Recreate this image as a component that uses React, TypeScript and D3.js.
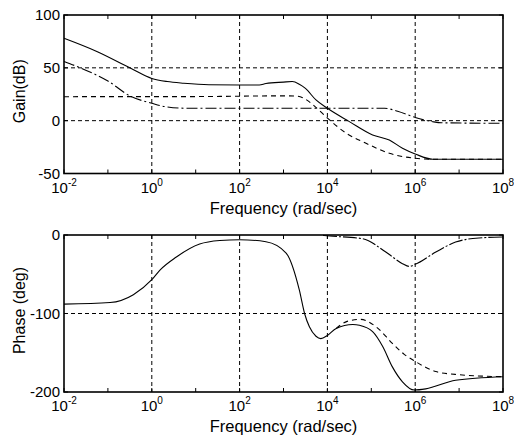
import React from 'react';
import * as d3 from 'd3';

// ---- data (log10 of frequency in rad/sec, values) ----
const xTickExps = [-2, 0, 2, 4, 6, 8];
const minorExps = [-1, 1, 3, 5, 7];
const gainTicks = [100, 50, 0, -50];
const gainGrid = [50, 0];
const phaseTicks = [0, -100, -200];
const phaseGrid = [-100];

// Gain: solid curve
const gainSolidW = [-2, -1.24, -0.48, 0, 0.35, 0.73, 1.3, 2.0, 2.45, 2.6, 3.0, 3.2, 3.36, 3.5, 3.74, 4.0, 4.5, 5.03, 5.41, 5.71, 6.0, 6.4, 7.0, 8];
const gainSolidDb = [78, 65.3, 49.6, 40, 37, 35.4, 34, 33.8, 33.8, 35.2, 36.5, 37, 34.5, 30.5, 19.6, 11.7, -0.9, -13.5, -18.3, -26.1, -31.5, -36.5, -36.5, -36.5];
// Gain: dash-dot curve
const gainDashDotW = [-2, -1.6, -1.0, -0.48, 0, 0.3, 0.73, 1.5, 3.0, 5.3, 5.6, 6.0, 6.4, 6.6, 8];
const gainDashDotDb = [56, 49.5, 37.5, 23, 16.5, 13.3, 11.8, 11.7, 11.7, 11.7, 9, 3, -1, -2, -2.5];
// Gain: dashed curve
const gainDashedW = [-2, 1, 3.0, 3.3, 3.45, 3.7, 4.0, 4.43, 4.88, 5.41, 6.0, 6.4, 8];
const gainDashedDb = [22.7, 22.8, 23.5, 23.2, 21.5, 14, 2.5, -11.9, -21.4, -30.9, -35.6, -36.5, -36.5];

// Phase: solid curve
const phaseSolidW = [-2, -0.95, -0.42, 0, 0.18, 0.56, 1.09, 1.55, 2.0, 2.6, 3.06, 3.36, 3.48, 3.59, 3.74, 3.85, 4.0, 4.2, 4.58, 4.73, 5.03, 5.26, 5.48, 5.71, 5.98, 6.24, 6.92, 8];
const phaseSolidDeg = [-88, -86, -76, -57, -45, -28, -11.5, -7, -6, -8.5, -23, -70, -100, -117, -129, -132, -128, -119, -114, -115, -123, -142, -168, -187, -197.5, -196, -185, -180.5];
// Phase: dashed curve
const phaseDashedW = [4.2, 4.45, 4.75, 5.11, 5.48, 5.75, 6.0, 6.47, 7.0, 8];
const phaseDashedDeg = [-119, -110, -107.5, -117, -138, -152, -161, -174, -178, -180.5];
// Phase: dash-dot curve
const phaseDashDotW = [3.9, 4.05, 4.8, 5.33, 5.71, 5.86, 6.0, 6.47, 6.92, 7.45, 8];
const phaseDashDotDeg = [-0.5, -1.3, -4.7, -21.7, -36.5, -40, -37.4, -21.7, -9, -3.8, -2.5];

const FONT = '"Liberation Sans", Arial, Helvetica, sans-serif';
const L = 64;
const R = 503;

const x = d3.scaleLog().domain([1e-2, 1e8]).range([L, R]);

type Panel = {
  top: number;
  bottom: number;
  domain: [number, number];
  ticks: number[];
  grid: number[];
  ylabel: string;
  series: { w: number[]; v: number[]; dash: string | null }[];
};

const panels: Panel[] = [
  {
    top: 15,
    bottom: 173.5,
    domain: [-50, 100],
    ticks: gainTicks,
    grid: gainGrid,
    ylabel: 'Gain(dB)',
    series: [
      { w: gainSolidW, v: gainSolidDb, dash: null },
      { w: gainDashDotW, v: gainDashDotDb, dash: '11,3,2,3' },
      { w: gainDashedW, v: gainDashedDb, dash: '5,4' },
    ],
  },
  {
    top: 235,
    bottom: 392,
    domain: [-200, 0],
    ticks: phaseTicks,
    grid: phaseGrid,
    ylabel: 'Phase (deg)',
    series: [
      { w: phaseSolidW, v: phaseSolidDeg, dash: null },
      { w: phaseDashedW, v: phaseDashedDeg, dash: '5,4' },
      { w: phaseDashDotW, v: phaseDashDotDeg, dash: '14,2,2,2' },
    ],
  },
];

function PanelView({ p }: { p: Panel }) {
  const y = d3.scaleLinear().domain(p.domain).range([p.bottom, p.top]);
  const line = d3
    .line<[number, number]>()
    .x((d) => x(Math.pow(10, d[0])))
    .y((d) => y(d[1]))
    .curve(d3.curveMonotoneX);
  const gridX = xTickExps.slice(1, -1);
  return (
    <g>
      {gridX.map((e) => (
        <line key={'gx' + e} x1={x(Math.pow(10, e))} x2={x(Math.pow(10, e))} y1={p.top} y2={p.bottom} stroke="#000" strokeWidth={1} strokeDasharray="4,3" />
      ))}
      {p.grid.map((g) => (
        <line key={'gy' + g} x1={L} x2={R} y1={y(g)} y2={y(g)} stroke="#000" strokeWidth={1} strokeDasharray="4,3" />
      ))}
      {p.series.map((s, i) => (
        <path
          key={'s' + i}
          d={line(s.w.map((w, k) => [w, s.v[k]] as [number, number])) || ''}
          fill="none"
          stroke="#000"
          strokeWidth={1.1}
          strokeDasharray={s.dash || undefined}
        />
      ))}
      <rect x={L} y={p.top} width={R - L} height={p.bottom - p.top} fill="none" stroke="#000" strokeWidth={1.6} />
      {[...xTickExps, ...minorExps].map((e) => (
        <g key={'tx' + e}>
          <line x1={x(Math.pow(10, e))} x2={x(Math.pow(10, e))} y1={p.bottom} y2={p.bottom - 4} stroke="#000" />
          <line x1={x(Math.pow(10, e))} x2={x(Math.pow(10, e))} y1={p.top} y2={p.top + 4} stroke="#000" />
        </g>
      ))}
      {p.ticks.map((t) => (
        <g key={'ty' + t}>
          <line x1={L} x2={L + 4} y1={y(t)} y2={y(t)} stroke="#000" />
          <line x1={R} x2={R - 4} y1={y(t)} y2={y(t)} stroke="#000" />
          <text x={L - 4} y={y(t) + 5} textAnchor="end" fontSize={15} fontFamily={FONT}>
            {t}
          </text>
        </g>
      ))}
      {xTickExps.map((e) => (
        <text key={'lx' + e} x={x(Math.pow(10, e))} y={p.bottom + 19} textAnchor="middle" fontSize={15} fontFamily={FONT}>
          10
          <tspan fontSize={10} dy={-7}>
            {e}
          </tspan>
        </text>
      ))}
      <text x={(L + R) / 2} y={p.bottom + 40} textAnchor="middle" fontSize={16.5} fontFamily={FONT}>
        Frequency (rad/sec)
      </text>
      <text
        transform={`translate(25,${(p.top + p.bottom) / 2 - 3}) rotate(-90)`}
        textAnchor="middle"
        fontSize={16}
        fontFamily={FONT}
      >
        {p.ylabel}
      </text>
    </g>
  );
}

export default function App() {
  return (
    <svg
      width={514}
      height={441}
      style={{ position: 'absolute', left: 0, top: 0, background: '#fff', display: 'block' }}
    >
      <rect width={514} height={441} fill="#fff" />
      {panels.map((p, i) => (
        <PanelView key={i} p={p} />
      ))}
    </svg>
  );
}
